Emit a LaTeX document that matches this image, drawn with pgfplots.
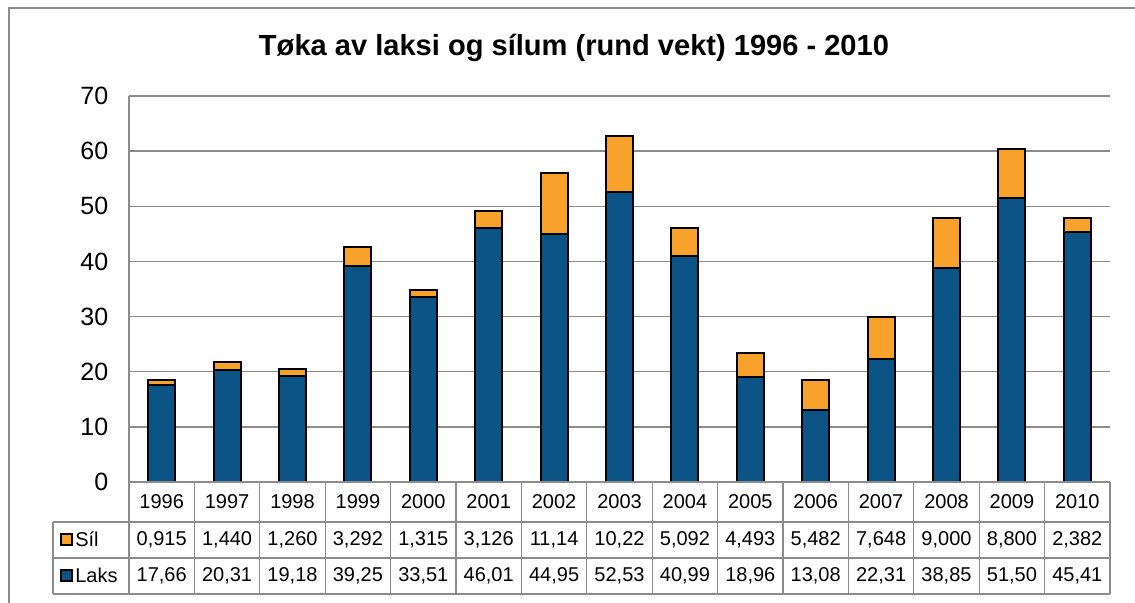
\documentclass[border=0pt]{standalone}
\usepackage{pgfplots}
\pgfplotsset{compat=1.18}
\usepackage{fontspec}
\setmainfont{Liberation Sans}
\definecolor{laks}{HTML}{0C5485}
\definecolor{sil}{HTML}{F9A22B}
\definecolor{frame}{HTML}{8C8C8C}
\begin{document}
\begin{tikzpicture}[x=0.75pt,y=0.75pt]
\path[use as bounding box] (0,0) rectangle (1135,603);
% outer chart frame (top and left visible)
\draw[frame,line width=1.5pt] (9,-5) -- (9,595) -- (1140,595);
% title
\node[font=\fontsize{21.8}{26}\selectfont\bfseries] at (574,555) {Tøka av laksi og sílum (rund vekt) 1996 - 2010};
\begin{axis}[
  at={(96.75pt,90.75pt)}, anchor=south west,
  scale only axis, width=735.75pt, height=289.5pt,
  ymin=0, ymax=70, ytick={0,10,...,70},
  xmin=-0.5, xmax=14.5, xtick=\empty,
  ybar stacked, bar width=20.25pt,
  ymajorgrids, grid style={frame, line width=1pt},
  major tick length=0pt,
  separate axis lines,
  axis x line=bottom, axis y line=left,
  axis line style={-, frame, line width=1pt},
  tick label style={font=\fontsize{18.75}{22}\selectfont},
  yticklabel style={xshift=-12pt},
  /pgf/number format/assume math mode=true,
  clip=false,
]
\addplot[fill=laks, draw=black, line width=1.5pt] coordinates {
(0,17.66) (1,20.31) (2,19.18) (3,39.25) (4,33.51) (5,46.01) (6,44.95) (7,52.53)
(8,40.99) (9,18.96) (10,13.08) (11,22.31) (12,38.85) (13,51.50) (14,45.41)};
\addplot[fill=sil, draw=black, line width=1.5pt] coordinates {
(0,0.915) (1,1.440) (2,1.260) (3,3.292) (4,1.315) (5,3.126) (6,11.14) (7,10.22)
(8,5.092) (9,4.493) (10,5.482) (11,7.648) (12,9.000) (13,8.800) (14,2.382)};
\end{axis}
% data table
\begin{scope}[frame, line width=1pt]
\draw (129,121) -- (1110,121);
\draw (53,81) -- (1110,81);
\draw (53,45) -- (1110,45);
\draw (53,9) -- (1110,9);
\draw (53,81) -- (53,9);
\foreach \k in {0,...,15} {\draw ({129+65.4*\k},121) -- ({129+65.4*\k},9);}
\end{scope}
\foreach \yr/\s/\l [count=\i from 0] in {
1996/0{,}915/17{,}66, 1997/1{,}440/20{,}31, 1998/1{,}260/19{,}18, 1999/3{,}292/39{,}25,
2000/1{,}315/33{,}51, 2001/3{,}126/46{,}01, 2002/11{,}14/44{,}95, 2003/10{,}22/52{,}53,
2004/5{,}092/40{,}99, 2005/4{,}493/18{,}96, 2006/5{,}482/13{,}08, 2007/7{,}648/22{,}31,
2008/9{,}000/38{,}85, 2009/8{,}800/51{,}50, 2010/2{,}382/45{,}41} {
  \node[font=\fontsize{15}{18}\selectfont] at ({129+65.4*(\i+0.5)},101) {\yr};
  \node[font=\fontsize{15}{18}\selectfont] at ({129+65.4*(\i+0.5)},63) {\s};
  \node[font=\fontsize{15}{18}\selectfont] at ({129+65.4*(\i+0.5)},27) {\l};
}
% legend keys
\draw[fill=sil, line width=1.2pt] (61,58) rectangle (72,69);
\node[anchor=west, font=\fontsize{15}{18}\selectfont, inner sep=0pt] at (75,63.5) {Síl};
\draw[fill=laks, line width=1.2pt] (61,22) rectangle (72,33);
\node[anchor=west, font=\fontsize{15}{18}\selectfont, inner sep=0pt] at (75,27.5) {Laks};
\end{tikzpicture}
\end{document}
